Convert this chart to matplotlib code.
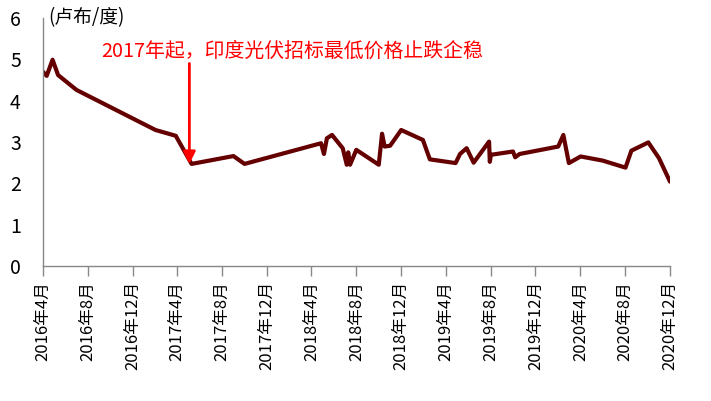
import numpy as np
import pandas as pd
import matplotlib
matplotlib.use("Agg")
import matplotlib.pyplot as plt
import matplotlib.dates as mdates

plt.rcParams['font.family'] = ['Noto Sans CJK SC', 'DejaVu Sans']

# 印度光伏招标最低价格 (卢布/度)
dates = ["2016-04-01", "2016-04-11", "2016-04-27", "2016-05-12", "2016-07-01",
         "2017-02-01", "2017-03-28", "2017-05-10", "2017-09-01", "2017-10-01",
         "2018-04-27", "2018-05-05", "2018-05-13", "2018-05-27", "2018-06-25",
         "2018-07-06", "2018-07-10", "2018-07-15", "2018-08-01", "2018-10-01",
         "2018-10-10", "2018-10-17", "2018-11-01", "2018-12-01", "2019-01-29",
         "2019-02-17", "2019-04-28", "2019-05-10", "2019-05-28", "2019-06-16",
         "2019-07-28", "2019-07-30", "2019-08-02", "2019-10-01", "2019-10-07",
         "2019-10-19", "2020-02-01", "2020-02-15", "2020-03-01", "2020-04-02",
         "2020-06-01", "2020-08-02", "2020-08-18", "2020-10-03", "2020-11-01",
         "2020-12-01"]
prices = [4.70, 4.60, 4.99, 4.62, 4.26,
          3.29, 3.15, 2.47, 2.66, 2.47,
          2.97, 2.71, 3.09, 3.17, 2.85,
          2.45, 2.75, 2.45, 2.81, 2.45,
          3.20, 2.89, 2.91, 3.29, 3.05,
          2.58, 2.49, 2.71, 2.85, 2.50,
          3.01, 2.52, 2.69, 2.77, 2.63,
          2.71, 2.89, 3.17, 2.49, 2.65,
          2.55, 2.38, 2.79, 2.99, 2.61,
          2.04]

tick_dates = pd.date_range("2016-04-01", "2020-12-01", freq="4MS")
tick_labels = [f"{d.year}年{d.month}月" for d in tick_dates]

x = pd.to_datetime(dates)

fig = plt.figure(figsize=(7.11, 4.01), dpi=100)
ax = fig.add_axes([43/711, 1 - 266/401, (670-43)/711, (266-18)/401])

ax.plot(x, prices, color="#650000", linewidth=3.0, solid_joinstyle="round", solid_capstyle="round")

ax.set_xlim(pd.Timestamp("2016-04-01"), pd.Timestamp("2020-12-01"))
ax.set_ylim(0, 6)
ax.set_xticks(tick_dates)
ax.set_xticklabels(tick_labels, rotation=90, fontsize=12)
ax.set_yticks(range(7))
ax.tick_params(axis='y', length=0, labelsize=14, pad=16)
ax.tick_params(axis='x', length=7, color="#888888", width=1, direction="out", pad=4)

for s in ["top", "right"]:
    ax.spines[s].set_visible(False)
for s in ["left", "bottom"]:
    ax.spines[s].set_color("#888888")
    ax.spines[s].set_linewidth(1)

ax.text(0.008, 1.0, "(卢布/度)", transform=ax.transAxes, fontsize=13.5,
        ha="left", va="center")

arrow_x = pd.Timestamp("2017-05-04")
ax.annotate("", xy=(arrow_x, 2.47), xytext=(arrow_x, 4.9),
            arrowprops=dict(arrowstyle="-|>", color="#ff0000", lw=2,
                            mutation_scale=18, shrinkA=0, shrinkB=0))
ax.text(pd.Timestamp("2016-09-05"), 5.2, "2017年起，印度光伏招标最低价格止跌企稳",
        color="#ff0000", fontsize=14.3, ha="left", va="center")

fig.savefig("out.png", dpi=100)
